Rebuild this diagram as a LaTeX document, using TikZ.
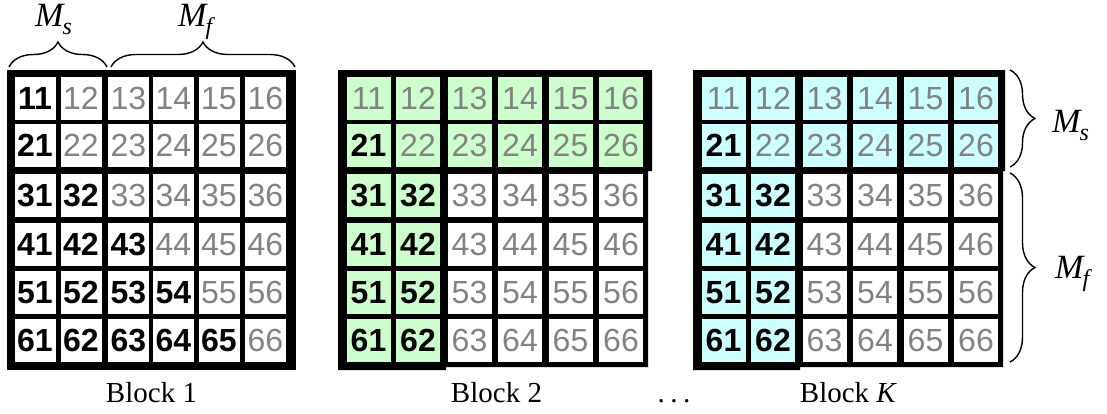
\documentclass[tikz,border=0pt]{standalone}
\usepackage{fontspec}
\setmainfont{Liberation Serif}
\newfontfamily\numfont{Liberation Sans}
\usetikzlibrary{decorations.pathreplacing}
\definecolor{numgraycol}{RGB}{130,130,130}
\definecolor{lgreen}{RGB}{204,255,204}
\definecolor{lcyan}{RGB}{204,255,255}
\tikzset{
  cellA/.style={rectangle, inner sep=0pt, minimum width=41pt, minimum height=43pt},
  cellB/.style={rectangle, inner sep=0pt, minimum width=44pt, minimum height=43pt},
  numbold/.style={font=\numfont\bfseries\fontsize{32}{36}\selectfont, text=black},
  numgray/.style={font=\numfont\fontsize{32}{36}\selectfont, text=numgraycol},
  blocklabel/.style={anchor=base, inner sep=0pt, font=\fontsize{29}{32}\selectfont},
  mlabel/.style={anchor=base west, inner sep=0pt},
  bracestyle/.style={decorate, decoration={brace, amplitude=25pt}, line width=1.4pt},
}
\newcommand{\MlabS}[1]{{\fontsize{#1}{#1}\selectfont\itshape M\kern-1pt\raisebox{-8pt}{\fontsize{24}{24}\selectfont\itshape s}}}
\newcommand{\MlabF}[1]{{\fontsize{#1}{#1}\selectfont\itshape M\kern-1pt\raisebox{-8pt}{\fontsize{24}{24}\selectfont\itshape f}}}
\begin{document}
\begin{tikzpicture}[x=1pt, y=-1pt]
\path[use as bounding box, fill=white] (0,0) rectangle (1107,413);
% ---- Block 1 ----
\fill[black] (7,70) rectangle (296,370);
\foreach \r/\cy in {1/98.5,2/145.5,3/195.5,4/244.5,5/292.5,6/340.5} {
  \foreach \c/\cx in {1/35,2/81,3/128.5,4/173.5,5/219,6/265.5} {
    \pgfmathtruncatemacro\isbold{(\c<=max(1,\r-1))}
    \ifnum\isbold=1
      \node[cellA, fill=white, numbold] (b1-\r\c) at (\cx,\cy) {\r\c};
    \else
      \node[cellA, fill=white, numgray] (b1-\r\c) at (\cx,\cy) {\r\c};
    \fi
  }
}
% ---- Block 2 ----
\fill[black] (338,70) -- (652,70) -- (652,171) -- (648,171) -- (648,367) -- (446,367) -- (446,370) -- (338,370) -- cycle;
\foreach \r/\cy in {1/98.5,2/145.5,3/195.5,4/244.5,5/292.5,6/340.5} {
  \foreach \c/\cx in {1/368.5,2/418,3/469.5,4/520,5/570.5,6/621} {
    \pgfmathtruncatemacro\iscol{or(\r<=2,\c<=2)}
    \pgfmathtruncatemacro\isbold{or(and(\r>=2,\c==1),and(\r>=3,\c==2))}
    \def\cellfill{white}
    \ifnum\iscol=1 \def\cellfill{lgreen}\fi
    \ifnum\isbold=1
      \node[cellB, fill=\cellfill, numbold] (b2-\r\c) at (\cx,\cy) {\r\c};
    \else
      \node[cellB, fill=\cellfill, numgray] (b2-\r\c) at (\cx,\cy) {\r\c};
    \fi
  }
}
% ---- Block K ----
\fill[black] (693,70) -- (1005,70) -- (1005,171) -- (1003,171) -- (1003,367) -- (800,367) -- (800,370) -- (693,370) -- cycle;
\foreach \r/\cy in {1/98.5,2/145.5,3/195.5,4/244.5,5/292.5,6/340.5} {
  \foreach \c/\cx in {1/723.5,2/773,3/824.5,4/875,5/925.5,6/976} {
    \pgfmathtruncatemacro\iscol{or(\r<=2,\c<=2)}
    \pgfmathtruncatemacro\isbold{or(and(\r>=2,\c==1),and(\r>=3,\c==2))}
    \def\cellfill{white}
    \ifnum\iscol=1 \def\cellfill{lcyan}\fi
    \ifnum\isbold=1
      \node[cellB, fill=\cellfill, numbold] (bK-\r\c) at (\cx,\cy) {\r\c};
    \else
      \node[cellB, fill=\cellfill, numgray] (bK-\r\c) at (\cx,\cy) {\r\c};
    \fi
  }
}
% ---- labels ----
\node[blocklabel] (lab1) at (151.5,402) {Block 1};
\node[blocklabel] (lab2) at (496.5,402) {Block 2};
\node[blocklabel] (labK) at (848.5,402) {Block \textit{K}};
\node[blocklabel] (dots) at (674,402) {.\kern5.5pt.\kern5.5pt.};
% ---- braces ----
\coordinate (tsL) at (9,67);
\coordinate (tsR) at (107,67);
\coordinate (tfL) at (111,67);
\coordinate (tfR) at (295,67);
\coordinate (rsT) at (1010,70);
\coordinate (rsB) at (1010,167);
\coordinate (rfT) at (1010,173);
\coordinate (rfB) at (1010,362);
\draw[bracestyle] (tsL) -- (tsR);
\draw[bracestyle] (tfL) -- (tfR);
\draw[bracestyle] (rsT) -- (rsB);
\draw[bracestyle] (rfT) -- (rfB);
\node[mlabel] (ms1) at (35,26) {\MlabS{34}};
\node[mlabel] (mf1) at (178,26) {\MlabF{34}};
\node[mlabel] (ms2) at (1052,132) {\MlabS{34}};
\node[mlabel] (mf2) at (1055,278) {\MlabF{34}};
\end{tikzpicture}
\end{document}
